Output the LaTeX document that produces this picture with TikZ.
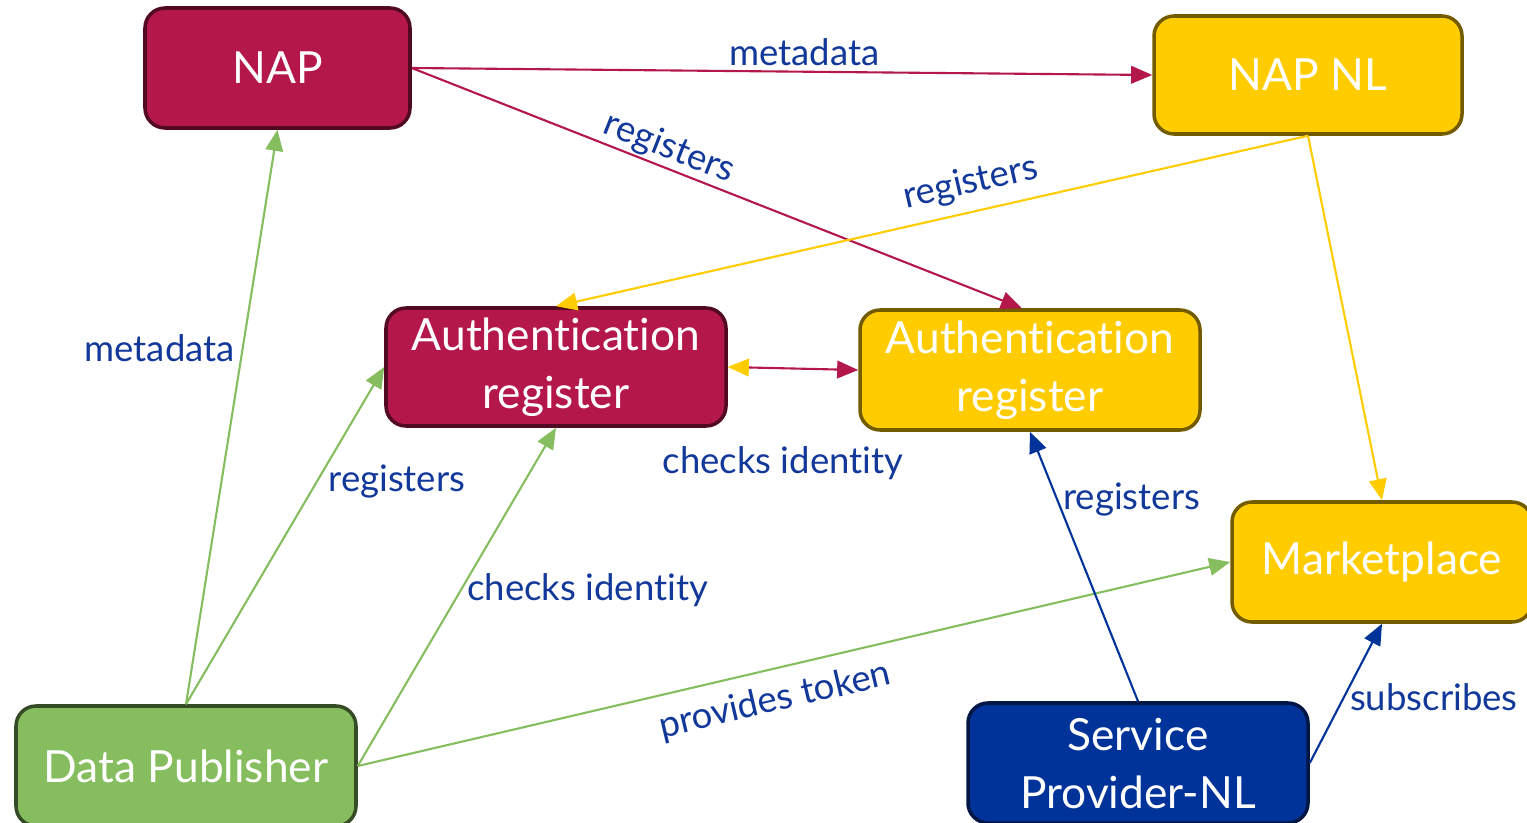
\documentclass[tikz,border=0pt]{standalone}
\usepackage{fontspec}
\setmainfont{Lato}[Ligatures={NoCommon}]
\usetikzlibrary{arrows.meta,positioning}

\definecolor{napred}{HTML}{B4174A}
\definecolor{napyel}{HTML}{FFCC00}
\definecolor{pubgreen}{HTML}{86BD5F}
\definecolor{provblue}{HTML}{003399}
\definecolor{labblue}{HTML}{12389A}

\tikzset{
  box/.style={rectangle, rounded corners=0.2cm, line width=1pt, text=white,
    align=center, font=\fontsize{12.6}{16.5}\selectfont, inner sep=2pt},
  redbox/.style={box, fill=napred, draw=napred!45!black},
  yelbox/.style={box, fill=napyel, draw=napyel!45!black},
  greenbox/.style={box, fill=pubgreen, draw=pubgreen!40!black},
  bluebox/.style={box, fill=provblue, draw=provblue!45!black},
  link/.style={line width=0.6pt, -{Triangle[length=6pt,width=5pt]}},
  lab/.style={text=labblue, font=\fontsize{10.4}{13}\selectfont, inner sep=1.5pt}
}

\begin{document}
\begin{tikzpicture}
      \useasboundingbox (0,0) rectangle (15.27,8.22);
      % the boxes
      \node[redbox, minimum width=2.65cm, minimum height=1.2cm] (nap) at (2.775,7.54) {NAP};
      \node[yelbox, minimum width=3.08cm, minimum height=1.18cm] (napnl) at (13.08,7.47) {NAP NL};
      \node[redbox, minimum width=3.4cm, minimum height=1.18cm] (authred) at (5.56,4.55) {Authentication\\register};
      \node[yelbox, minimum width=3.4cm, minimum height=1.2cm] (authyel) at (10.30,4.52) {Authentication\\register};
      \node[yelbox, minimum width=3.0cm, minimum height=1.2cm] (market) at (13.82,2.60) {Marketplace};
      \node[greenbox, minimum width=3.4cm, minimum height=1.2cm] (publisher) at (1.86,0.56) {Data Publisher};
      \node[bluebox, minimum width=3.4cm, minimum height=1.2cm] (provider) at (11.38,0.59) {Service\\Provider-NL};

      % NAP and NAP NL
      \draw[link, napred] (nap.east) -- (napnl.west) node[lab, pos=0.53, above] {metadata};
      \draw[link, napred] (nap.east) -- ([xshift=-0.08cm]authyel.north)
        node[lab, pos=0.41, sloped, above, inner sep=0.5pt] {registers};
      \draw[link, napyel] (napnl.south) -- (authred.north)
        node[lab, pos=0.44, sloped, above, inner sep=3pt] {registers};
      \draw[link, napyel] (napnl.south) -- (market.north);
      \draw[line width=0.6pt, napred, {Triangle[length=6pt,width=5pt,color=napyel]}-{Triangle[length=6pt,width=5pt]}]
        (authred.east) -- (authyel.west)
        node[lab, midway, below=0.72cm, xshift=-0.1cm] {checks identity};

      % Data Publisher
      \draw[link, pubgreen] (publisher.north) -- (nap.south) node[lab, pos=0.62, left, inner sep=2pt] {metadata};
      \draw[link, pubgreen] (publisher.north) -- (authred.west) node[lab, pos=0.66, right, inner sep=3pt] {registers};
      \draw[link, pubgreen] (publisher.east) -- (authred.south) node[lab, pos=0.52, right] {checks identity};
      \draw[link, pubgreen] (publisher.east) -- (market.west)
        node[lab, pos=0.47, sloped, below, inner sep=4pt] {provides token};

      % Service Provider-NL
      \draw[link, provblue] (provider.north) -- (authyel.south) node[lab, pos=0.75, right] {registers};
      \draw[link, provblue] (provider.east) -- (market.south) node[lab, pos=0.47, right] {subscribes};
    \end{tikzpicture}
\end{document}
